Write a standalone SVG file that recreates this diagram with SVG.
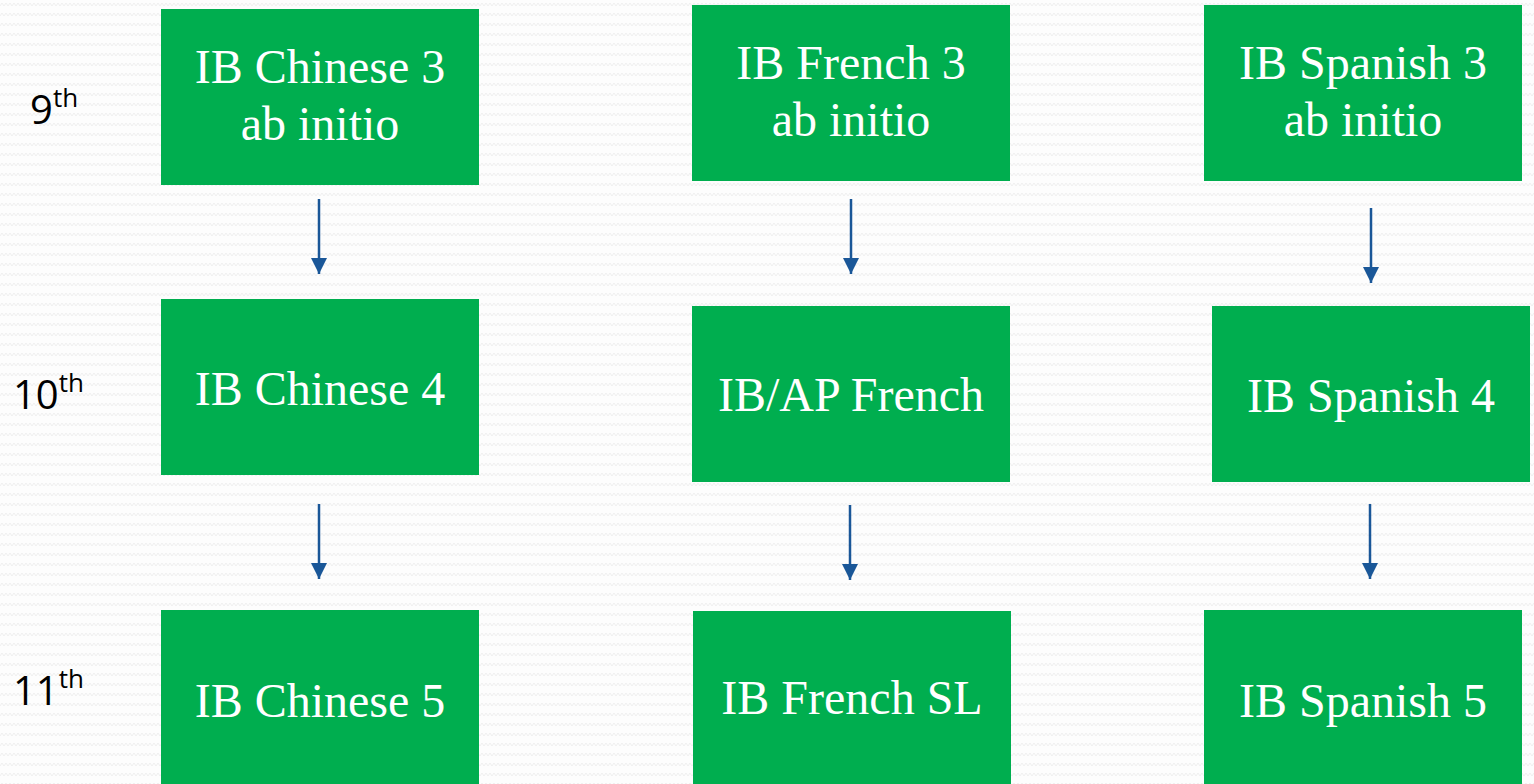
<svg xmlns="http://www.w3.org/2000/svg" width="1534" height="784" viewBox="0 0 1534 784">
<defs>
<pattern id="bg" width="8" height="10" patternUnits="userSpaceOnUse">
<path d="M0 6 L2 3 L4 6 L6 3 L8 6" fill="none" stroke="#efefef" stroke-width="1"/>
</pattern>
<marker id="ah" viewBox="0 0 16 16" refX="16" refY="8" markerWidth="16" markerHeight="16" markerUnits="userSpaceOnUse" orient="auto">
<path d="M0 0 L16 8 L0 16 Z" fill="#1a5798"/>
</marker>
<style>
.box{fill:#00ae4f}
.t{font-family:"Liberation Serif","Times New Roman",serif;font-size:48px;fill:#ffffff;text-anchor:middle}
.lab{font-family:"Open Sans","DejaVu Sans",sans-serif;font-size:40px;fill:#000000}
.sup{font-size:26px}
.arr{stroke:#1a5798;stroke-width:2.5;fill:none;marker-end:url(#ah)}
</style>
</defs>
<rect width="1534" height="784" fill="#fdfdfd"/>
<rect width="1534" height="784" fill="url(#bg)"/>

<g id="labels">
<text class="lab" x="30" y="124">9<tspan class="sup" dy="-17">th</tspan></text>
<text class="lab" x="13" y="409">10<tspan class="sup" dy="-17">th</tspan></text>
<text class="lab" x="13" y="705">11<tspan class="sup" dy="-17">th</tspan></text>
</g>

<g id="connectors">
<line class="arr" x1="319" y1="199" x2="319" y2="274"/>
<line class="arr" x1="319" y1="504" x2="319" y2="579"/>
<line class="arr" x1="851" y1="199" x2="851" y2="274"/>
<line class="arr" x1="850" y1="505" x2="850" y2="580"/>
<line class="arr" x1="1371" y1="208" x2="1371" y2="283"/>
<line class="arr" x1="1370" y1="504" x2="1370" y2="579"/>
</g>

<g id="chinese3"><rect class="box" x="161" y="9" width="318" height="176"/>
<text class="t" x="320" y="83">IB Chinese 3</text><text class="t" x="320" y="140">ab initio</text></g>
<g id="french3"><rect class="box" x="692" y="5" width="318" height="176"/>
<text class="t" x="851" y="79">IB French 3</text><text class="t" x="851" y="136">ab initio</text></g>
<g id="spanish3"><rect class="box" x="1204" y="5" width="318" height="176"/>
<text class="t" x="1363" y="79">IB Spanish 3</text><text class="t" x="1363" y="136">ab initio</text></g>

<g id="chinese4"><rect class="box" x="161" y="299" width="318" height="176"/>
<text class="t" x="320" y="405">IB Chinese 4</text></g>
<g id="frenchap"><rect class="box" x="692" y="306" width="318" height="176"/>
<text class="t" x="851" y="411">IB/AP French</text></g>
<g id="spanish4"><rect class="box" x="1212" y="306" width="318" height="176"/>
<text class="t" x="1371" y="412">IB Spanish 4</text></g>

<g id="chinese5"><rect class="box" x="161" y="610" width="318" height="176"/>
<text class="t" x="320" y="717">IB Chinese 5</text></g>
<g id="frenchsl"><rect class="box" x="693" y="611" width="318" height="176"/>
<text class="t" x="852" y="714">IB French SL</text></g>
<g id="spanish5"><rect class="box" x="1204" y="610" width="318" height="176"/>
<text class="t" x="1363" y="717">IB Spanish 5</text></g>
</svg>
